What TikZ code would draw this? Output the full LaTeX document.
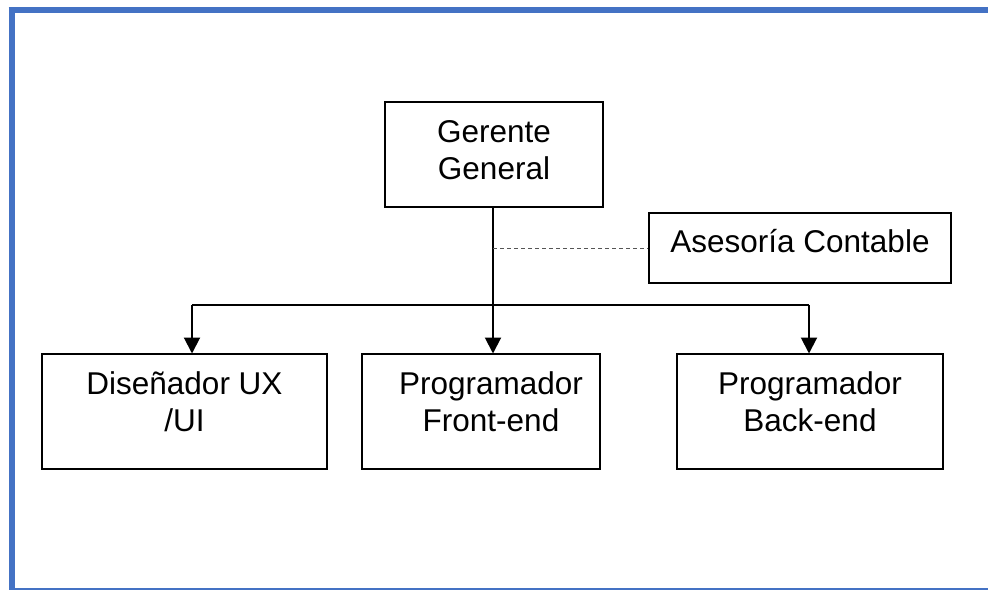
\documentclass[tikz,border=0pt]{standalone}
\usepackage{fontspec}
\setmainfont{Liberation Sans}
\usetikzlibrary{arrows.meta,calc}
\definecolor{frameblue}{HTML}{4472C4}
\definecolor{dashgray}{HTML}{555555}
\tikzset{
  x=1pt, y=-1pt,
  unit/.style={draw=black, line width=2pt, fill=white, inner sep=0pt},
  txt/.style={anchor=north, align=center, inner sep=0pt,
    font=\fontsize{31.5}{37}\selectfont},
  bus/.style={draw=black, line width=2pt},
  trunk/.style={draw=black, line width=2.8pt},
  down/.style={draw=black, line width=2pt,
    -{Triangle[width=16pt,length=16pt]}, shorten >=-0.5pt},
  advice/.style={draw=dashgray, line width=1pt, dash pattern=on 4pt off 3pt}
}
\begin{document}
\begin{tikzpicture}
\useasboundingbox (0,0) rectangle (988,590);
% page frame
\draw[frameblue, line width=6pt] (11.5,7) -- (11.5,590);
\draw[frameblue, line width=6pt] (8.5,10) -- (988,10);
\draw[frameblue, line width=1.5pt] (14,589) -- (988,589);

% units
\node[unit, minimum width=218pt, minimum height=105pt] (gg) at (494,154.5) {};
\node[unit, minimum width=302pt, minimum height=70pt] (ac) at (800,248) {};
\node[unit, minimum width=285pt, minimum height=115pt] (ux) at (184.5,411.5) {};
\node[unit, minimum width=238pt, minimum height=115pt] (fe) at (481,411.5) {};
\node[unit, minimum width=266pt, minimum height=115pt] (be) at (810,411.5) {};

% texts
\node[txt] (gg-t) at ($(gg.north)+(0,15)$) {\strut Gerente\\General};
\node[txt] (ac-t) at ($(ac.north)+(0,14)$) {\strut Asesoría Contable};
\node[txt] (ux-t) at ($(ux.north)+(0,15)$) {\strut Diseñador UX\\/UI};
\node[txt] (fe-t) at ($(fe.north)+(10,15)$) {\strut Programador\\Front-end};
\node[txt] (be-t) at ($(be.north)+(0,15)$) {\strut Programador\\Back-end};

% connectors
\coordinate (split) at (493,305);
\coordinate (dropL) at ($(ux.north)+(7.5,0)$);
\coordinate (dropR) at ($(be.north)+(-1,0)$);
\draw[trunk] (gg.south -| split) -- (split);
\draw[advice] (split |- ac.west) -- (ac.west);
\draw[bus] (dropL |- split) -- (dropR |- split);
\draw[down] (split) -- (split |- fe.north);
\draw[down] (dropL |- split) -- (dropL);
\draw[down] (dropR |- split) -- (dropR);
\end{tikzpicture}
\end{document}
